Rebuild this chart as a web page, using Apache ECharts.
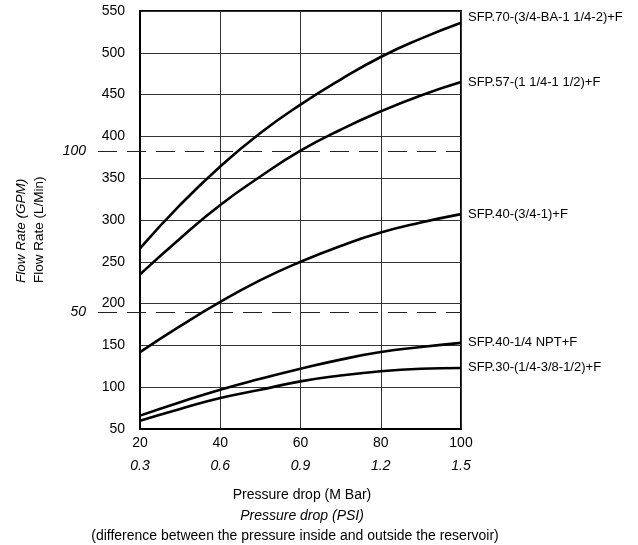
<!DOCTYPE html>
<html>
<head>
<meta charset="utf-8">
<script src="https://cdn.jsdelivr.net/npm/echarts@6/dist/echarts.min.js"></script>
<style>
html,body{margin:0;padding:0;background:#fff;}
#chart{width:638px;height:545px;}
</style>
</head>
<body>
<div id="chart"></div>
<script>
// Data
var pressureMbar = [20, 30, 40, 50, 60, 70, 80, 90, 100];
var tickMbar = [20, 40, 60, 80, 100];
var tickPsi = ['0.3', '0.6', '0.9', '1.2', '1.5'];
var seriesNames = [
  'SFP.70-(3/4-BA-1 1/4-2)+F',
  'SFP.57-(1 1/4-1 1/2)+F',
  'SFP.40-(3/4-1)+F',
  'SFP.40-1/4 NPT+F',
  'SFP.30-(1/4-3/8-1/2)+F'
];
var sfp70 = [266, 318, 364, 404, 438, 468, 495, 517, 536];
var sfp57 = [235, 278, 318, 352, 383, 408, 430, 449, 465];
var sfp40 = [142, 173, 202, 228, 250, 269, 285, 297, 307];
var sfp40npt = [66, 82, 97, 110, 122, 133, 142, 148, 153];
var sfp30 = [60, 74, 87, 97, 107, 114, 119, 122, 123];
var gpmRefLines = [50, 100];
// GPM axis range matching the L/min axis (50..550) as drawn in the source
var gpmMin = 13.64, gpmMax = 143.5;

var FONT = "'Liberation Sans', Arial, sans-serif";
var allSeries = [sfp70, sfp57, sfp40, sfp40npt, sfp30];
var labelOffsets = [[0, -5], [0, 0], [0, 0], [0, 0], [0, -1]];

var chart = echarts.init(document.getElementById('chart'));
var series = allSeries.map(function (vals, i) {
  return {
    name: seriesNames[i],
    type: 'line',
    smooth: 0.5,
    symbol: 'none',
    data: vals.map(function (v, j) { return [pressureMbar[j], v]; }),
    lineStyle: { color: '#000', width: 2.6 },
    endLabel: {
      show: true,
      formatter: seriesNames[i],
      distance: 7,
      offset: labelOffsets[i],
      color: '#000',
      fontFamily: FONT,
      fontSize: 13
    },
    z: 5
  };
});

chart.setOption({
  animation: false,
  backgroundColor: '#fff',
  grid: { left: 140, right: 177, top: 11, bottom: 116, show: true, borderColor: '#000', borderWidth: 2, containLabel: false },
  xAxis: {
    type: 'value',
    min: 20, max: 100, interval: 20,
    axisLine: { show: true, lineStyle: { color: '#000', width: 2 } },
    axisTick: { show: false },
    splitLine: { show: true, lineStyle: { color: '#333', width: 1 } },
    axisLabel: {
      margin: 3,
      formatter: function (v) {
        var idx = tickMbar.indexOf(v);
        return '{a|' + v + '}\n{b|' + (idx >= 0 ? tickPsi[idx] : '') + '}';
      },
      rich: {
        a: { fontFamily: FONT, fontSize: 14, color: '#000', lineHeight: 23 },
        b: { fontFamily: FONT, fontSize: 14, color: '#000', fontStyle: 'italic', lineHeight: 23 }
      }
    }
  },
  yAxis: [{
    type: 'value',
    min: 50, max: 550, interval: 50,
    axisLine: { show: true, lineStyle: { color: '#000', width: 2 } },
    axisTick: { show: false },
    splitLine: { show: true, lineStyle: { color: '#333', width: 1 } },
    axisLabel: { margin: 15, color: '#000', fontFamily: FONT, fontSize: 14 }
  }, {
    type: 'value',
    position: 'left',
    offset: 42,
    min: gpmMin, max: gpmMax,
    axisLine: { show: false },
    splitLine: { show: false },
    axisTick: {
      show: true, inside: true, length: 363,
      customValues: gpmRefLines,
      lineStyle: { color: '#222', width: 1.2, type: [19, 10] }
    },
    axisLabel: {
      show: true, margin: 12, customValues: gpmRefLines,
      color: '#000', fontFamily: FONT, fontSize: 14, fontStyle: 'italic'
    }
  }],
  series: series,
  graphic: [
    { type: 'text', x: 21, y: 283, rotation: Math.PI / 2,
      style: { text: 'Flow Rate (GPM)', fontFamily: FONT, fontSize: 13.5, fontStyle: 'italic', fill: '#000', textAlign: 'left', textVerticalAlign: 'middle' } },
    { type: 'text', x: 39, y: 283, rotation: Math.PI / 2,
      style: { text: 'Flow Rate (L/Min)', fontFamily: FONT, fontSize: 13.5, fill: '#000', textAlign: 'left', textVerticalAlign: 'middle' } },
    { type: 'text', x: 302, y: 495,
      style: { text: 'Pressure drop (M Bar)', fontFamily: FONT, fontSize: 14, fill: '#000', textAlign: 'center', textVerticalAlign: 'middle' } },
    { type: 'text', x: 302, y: 516,
      style: { text: 'Pressure drop (PSI)', fontFamily: FONT, fontSize: 14, fontStyle: 'italic', fill: '#000', textAlign: 'center', textVerticalAlign: 'middle' } },
    { type: 'text', x: 295, y: 536,
      style: { text: '(difference between the pressure inside and outside the reservoir)', fontFamily: FONT, fontSize: 14, fill: '#000', textAlign: 'center', textVerticalAlign: 'middle' } }
  ]
});
</script>
</body>
</html>
